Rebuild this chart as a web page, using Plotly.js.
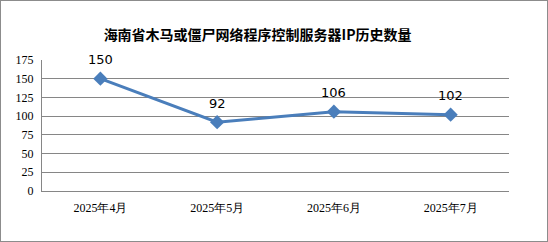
<!DOCTYPE html>
<html><head><meta charset="utf-8">
<script src="https://cdn.plot.ly/plotly-3.0.1.min.js"></script>
<style>
html,body{margin:0;padding:0;background:#fff;}
#wrap{width:546px;height:240px;border:1px solid #8c8c8c;}
#chart{width:546px;height:240px;}
</style></head>
<body><div id="wrap"><div id="chart"></div></div>
<script>
const categories = ["2025年4月", "2025年5月", "2025年6月", "2025年7月"];
const values = [150, 92, 106, 102];
const yTicks = [0, 25, 50, 75, 100, 125, 150, 175];
const titleText = "海南省木马或僵尸网络程序控制服务器IP历史数量";
const serif = "'Liberation Serif', 'Times New Roman', 'DejaVu Serif', serif";

const trace = {
  x: categories, y: values, type: "scatter", mode: "lines+markers",
  line: {color: "#4a7ebb", width: 3},
  marker: {symbol: "diamond", size: 11, color: "#4a7ebb"},
  cliponaxis: false, hoverinfo: "none"
};
const annotations = categories.map((c, i) => ({
  x: c, y: values[i], xref: "x", yref: "y", text: String(values[i]), showarrow: false,
  yshift: 19, yanchor: "middle", xanchor: "center",
  font: {family: "DejaVu Sans", size: 13, color: "#000"}
}));
const layout = {
  width: 546, height: 240,
  margin: {l: 41, r: 38, t: 59, b: 50},
  paper_bgcolor: "#fff", plot_bgcolor: "#fff",
  showlegend: false,
  annotations: annotations,
  title: {text: titleText, font: {family: "Noto Sans CJK SC", size: 14, color: "#000", weight: "bold"},
          x: 0.47, xanchor: "center", y: 1 - 34/240, yanchor: "middle"},
  xaxis: {type: "category", range: [-0.5, 3.5], showgrid: false, showline: true, linecolor: "#868686",
          linewidth: 1, ticks: "", ticklabelstandoff: 6,
          tickfont: {family: serif, size: 12, color: "#000"}, fixedrange: true},
  yaxis: {range: [0, 175], tickvals: yTicks, ticktext: yTicks.map(String), showgrid: true, gridcolor: "#868686",
          gridwidth: 1, showline: true, linecolor: "#868686", linewidth: 1, ticks: "", zeroline: false,
          ticklabelstandoff: 5,
          tickfont: {family: serif, size: 12, color: "#000"}, fixedrange: true}
};
Plotly.newPlot("chart", [trace], layout, {displayModeBar: false, staticPlot: true});
</script></body></html>
